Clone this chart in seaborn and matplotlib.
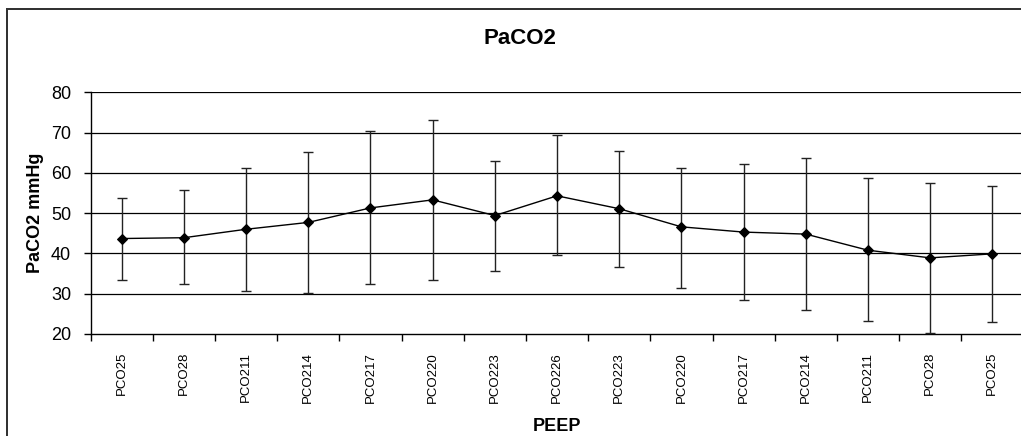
import matplotlib
matplotlib.use("Agg")
import matplotlib.pyplot as plt
import seaborn as sns
import numpy as np
import pandas as pd
from matplotlib.patches import Rectangle
from matplotlib.ticker import FixedLocator, NullFormatter

categories = ["PCO25", "PCO28", "PCO211", "PCO214", "PCO217", "PCO220", "PCO223",
              "PCO226", "PCO223", "PCO220", "PCO217", "PCO214", "PCO211", "PCO28", "PCO25"]
mean_vals = [43.7, 43.9, 46.0, 47.7, 51.3, 53.3, 49.4, 54.3, 51.1, 46.6, 45.3, 44.8, 40.8, 38.9, 39.9]
upper_vals = [53.7, 55.7, 61.3, 65.3, 70.5, 73.1, 63.0, 69.3, 65.5, 61.3, 62.3, 63.7, 58.7, 57.5, 56.8]
lower_vals = [33.4, 32.3, 30.6, 30.1, 32.3, 33.4, 35.6, 39.5, 36.6, 31.5, 28.5, 25.9, 23.3, 20.3, 23.1]
y_ticks = [20, 30, 40, 50, 60, 70, 80]

sns.set_theme(style="white")
plt.rcParams['font.family'] = ['Liberation Sans', 'DejaVu Sans']

W, H = 1021, 436
fig = plt.figure(figsize=(W / 100, H / 100), dpi=100)
fig.patch.set_facecolor("white")

pos = np.arange(len(categories))
df = pd.DataFrame({"pos": pos, "mean": mean_vals, "upper": upper_vals, "lower": lower_vals})

left_px, right_px = 90.6, 90.6 + 15 * 62.19
top_px, bot_px = 92.3, 334.0
ax = fig.add_axes([left_px / W, 1 - bot_px / H, (right_px - left_px) / W, (bot_px - top_px) / H])
ax.set_facecolor("white")

# error bars
yerr = np.vstack([df["mean"] - df["lower"], df["upper"] - df["mean"]])
ax.errorbar(df["pos"], df["mean"], yerr=yerr, fmt="none", ecolor="#222222",
            elinewidth=1.0, capsize=3.5, capthick=1.0, zorder=3)

sns.lineplot(data=df, x="pos", y="mean", ax=ax, color="black", linewidth=1.0,
             marker="D", markersize=5, markeredgecolor="black", markerfacecolor="black",
             zorder=4, legend=False)

ax.set_xlim(-0.5, len(categories) - 0.5)
ax.set_ylim(20, 80)
ax.set_yticks(y_ticks)
for yv in y_ticks[1:]:
    ax.axhline(yv, color="black", linewidth=0.9, zorder=1)

for s in ["top", "right"]:
    ax.spines[s].set_visible(False)
for s in ["left", "bottom"]:
    ax.spines[s].set_visible(True)
    ax.spines[s].set_color("black")
    ax.spines[s].set_linewidth(1.0)

# labels at category centers, tick marks at boundaries
ax.set_xticks(pos)
ax.set_xticklabels(categories, rotation=90, fontsize=9.5, va="top")
ax.tick_params(axis="x", which="major", length=0, pad=13, colors="black")
ax.xaxis.set_minor_locator(FixedLocator(np.arange(-0.5, len(categories) + 0.5, 1.0)))
ax.xaxis.set_minor_formatter(NullFormatter())
ax.tick_params(axis="x", which="minor", bottom=True, length=5, width=1.0, color="black", direction="out")
ax.tick_params(axis="y", which="major", left=True, length=5, width=1.0, color="black",
               labelsize=13, pad=9, labelcolor="black")

ax.set_xlabel("")
ax.set_ylabel("")
fig.text(35 / W, 1 - 213 / H, "PaCO2 mmHg", rotation=90, ha="center", va="center",
         fontsize=13, fontweight="bold", color="black")
fig.text(557 / W, 1 - 426 / H, "PEEP", ha="center", va="center",
         fontsize=13, fontweight="bold", color="black")
fig.text(520 / W, 1 - 38 / H, "PaCO2", ha="center", va="center",
         fontsize=16, fontweight="bold", color="black")

# outer chart border (only left and top visible in the crop), drawn as thin filled bars
bw = 1.8
fig.patches.append(Rectangle((6.1 / W, 0.0), bw / W, (H - 8.1) / H, transform=fig.transFigure,
                             facecolor="#333333", edgecolor="none", linewidth=0))
fig.patches.append(Rectangle((6.1 / W, (H - 9.9) / H), (W - 6.1) / W, bw / H,
                             transform=fig.transFigure,
                             facecolor="#333333", edgecolor="none", linewidth=0))

fig.savefig("out.png", dpi=100, facecolor="white")
